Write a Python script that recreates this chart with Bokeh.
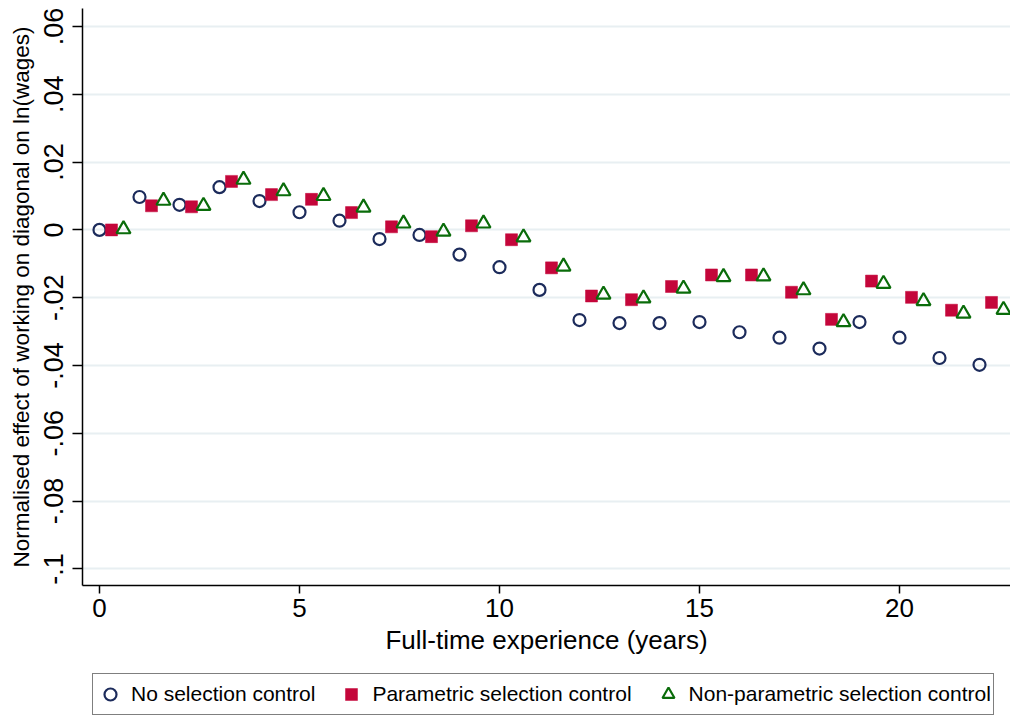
from bokeh.plotting import figure
from bokeh.models import Range1d, FixedTicker, Legend, LegendItem
from bokeh.layouts import column
from bokeh.embed import file_html
from bokeh.resources import INLINE

# ---- data ----
experience = list(range(23))
no_selection = [0.0, 0.0097, 0.0074, 0.0126, 0.0085, 0.0052, 0.0027, -0.0027,
                -0.0015, -0.0073, -0.0110, -0.0177, -0.0266, -0.0275, -0.0275,
                -0.0272, -0.0302, -0.0318, -0.0350, -0.0272, -0.0318, -0.0378,
                -0.0398]
parametric = [0.0, 0.0071, 0.0068, 0.0143, 0.0104, 0.0090, 0.0051, 0.0009,
              -0.0020, 0.0012, -0.0029, -0.0112, -0.0195, -0.0206, -0.0167,
              -0.0133, -0.0133, -0.0184, -0.0264, -0.0151, -0.0199, -0.0237,
              -0.0214]
nonparametric = [0.0002, 0.0086, 0.0071, 0.0148, 0.0114, 0.0100, 0.0066, 0.0019,
                 -0.0005, 0.0019, -0.0022, -0.0108, -0.0191, -0.0202, -0.0173,
                 -0.0139, -0.0137, -0.0178, -0.0272, -0.0159, -0.0210, -0.0247,
                 -0.0236]
series_labels = ["No selection control", "Parametric selection control",
                 "Non-parametric selection control"]
x_ticks = [0, 5, 10, 15, 20]
y_ticks = [-0.1, -0.08, -0.06, -0.04, -0.02, 0, 0.02, 0.04, 0.06]
y_tick_labels = ["-.1", "-.08", "-.06", "-.04", "-.02", "0", ".02", ".04", ".06"]

# horizontal dodge of the series within each year
param_offset = 0.3
nonparam_offset = 0.6
x_param = [x + param_offset for x in experience]
x_nonparam = [x + nonparam_offset for x in experience]

FONT = "Liberation Sans"
NAVY = "#1c2b5b"
CRIMSON = "#c4063a"
GREEN = "#0a6c0a"

circle_style = dict(marker="circle", size=12, fill_alpha=0, line_color=NAVY,
                    line_width=2.2)
square_style = dict(marker="square", size=12, fill_color=CRIMSON,
                    line_color=CRIMSON, line_width=0.5)
triangle_style = dict(marker="triangle", size=14, fill_alpha=0,
                      line_color=GREEN, line_width=2.2)

p = figure(frame_width=928, frame_height=577, output_backend="svg",
           toolbar_location=None,
           x_range=Range1d(-0.425, 22.775), y_range=Range1d(-0.1049, 0.0653),
           min_border_left=82, min_border_right=0, min_border_top=8,
           min_border_bottom=82)
p.outline_line_color = None
p.background_fill_color = "white"
p.border_fill_color = "white"

p.scatter(experience, no_selection, **circle_style)
p.scatter(x_param, parametric, **square_style)
p.scatter(x_nonparam, nonparametric, **triangle_style)

# axes
for ax in (p.xaxis[0], p.yaxis[0]):
    ax.axis_line_color = "black"
    ax.axis_line_width = 1.5
    ax.major_tick_line_color = "black"
    ax.major_tick_line_width = 1.5
    ax.major_tick_in = 0
    ax.minor_tick_line_color = None
    ax.major_label_text_font = FONT
    ax.major_label_text_color = "black"
    ax.axis_label_text_font = FONT
    ax.axis_label_text_font_style = "normal"
    ax.axis_label_text_color = "black"

p.xaxis.ticker = FixedTicker(ticks=x_ticks)
p.xaxis.major_tick_out = 8
p.xaxis.major_label_text_font_size = "26px"
p.xaxis.major_label_standoff = 5
p.xaxis.axis_label = "Full-time experience (years)"
p.xaxis.axis_label_text_font_size = "26px"
p.xaxis.axis_label_standoff = 5

p.yaxis.ticker = FixedTicker(ticks=y_ticks)
p.yaxis.major_label_overrides = dict(zip(y_ticks, y_tick_labels))
p.yaxis.major_label_orientation = "vertical"
p.yaxis.major_tick_out = 10
p.yaxis.major_label_text_font_size = "27px"
p.yaxis.major_label_standoff = 9
p.yaxis.axis_label = "Normalised effect of working on diagonal on ln(wages)"
p.yaxis.axis_label_text_font_size = "22.5px"
p.yaxis.axis_label_standoff = 8

p.xgrid.visible = False
p.ygrid.grid_line_color = "#e8eff2"
p.ygrid.grid_line_width = 2

# ---- legend strip below the chart (frame aligned with the main plot) ----
lg = figure(frame_width=928, height=48, output_backend="svg",
            toolbar_location=None,
            x_range=Range1d(1000, 1001), y_range=Range1d(1000, 1001),
            x_axis_location=None, y_axis_location=None,
            min_border_left=82, min_border_right=0, min_border_top=0,
            min_border_bottom=0)
lg.grid.visible = False
lg.outline_line_color = None
lg.border_fill_color = "white"
l1 = lg.scatter(experience, no_selection, **circle_style)
l2 = lg.scatter(x_param, parametric, **square_style)
l3 = lg.scatter(x_nonparam, nonparametric, **triangle_style)

legend = Legend(items=[LegendItem(label=series_labels[0], renderers=[l1]),
                       LegendItem(label=series_labels[1], renderers=[l2]),
                       LegendItem(label=series_labels[2], renderers=[l3])],
                orientation="horizontal", location=(10, 0),
                margin=0, padding=2, spacing=21, glyph_width=30,
                glyph_height=36, label_standoff=6,
                label_text_font=FONT, label_text_font_size="21px",
                label_text_color="black",
                border_line_color="black", border_line_width=1.5,
                background_fill_color="white")
lg.add_layout(legend, "center")

layout = column(p, lg, spacing=0)
open("out.html", "w").write(file_html(layout, INLINE))
